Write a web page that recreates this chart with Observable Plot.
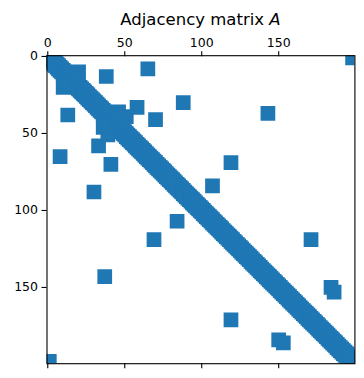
<!DOCTYPE html>
<html><head><meta charset="utf-8">
<script src="https://cdn.jsdelivr.net/npm/d3@7"></script>
<script src="https://cdn.jsdelivr.net/npm/@observablehq/plot@0.6"></script>
<style>body{margin:0;background:#fff} svg{display:block}</style>
</head><body><div id="chart"></div>
<script>
// ---- data ----
const nodeCount = 200;
const bandOffsets = [-1, 0, 1];
const extraRows = [1, 198, 8, 65, 10, 20, 13, 38, 30, 88, 33, 58, 36, 46, 39, 51, 37, 143, 41, 70, 69, 119, 84, 107, 119, 171, 150, 184, 153, 186];
const extraCols = [198, 1, 65, 8, 20, 10, 38, 13, 88, 30, 58, 33, 46, 36, 51, 39, 143, 37, 70, 41, 119, 69, 107, 84, 171, 119, 184, 150, 186, 153];
const tickValues = [0, 50, 100, 150];
const titleText = "Adjacency matrix ";
const titleSymbol = "A";

// ---- build the nonzero cells ----
const cells = [];
for (let i = 0; i < nodeCount; i++) {
  for (const k of bandOffsets) {
    const j = i + k;
    if (j >= 0 && j < nodeCount) cells.push({row: i, col: j});
  }
}
extraRows.forEach((r, idx) => cells.push({row: r, col: extraCols[idx]}));

const W = 364, H = 378;
const mL = 46.5, mR = 9.6, mT = 55.2, mB = 14.8;

const chart = Plot.plot({
  width: W, height: H,
  marginLeft: mL, marginRight: mR, marginTop: mT, marginBottom: mB,
  style: {fontFamily: "DejaVu Sans", fontSize: "12.5px", color: "black", background: "white", overflow: "visible"},
  x: {domain: [-0.5, nodeCount - 0.5]},
  y: {domain: [-0.5, nodeCount - 0.5], reverse: true},
  marks: [
    Plot.dot(cells, {x: "col", y: "row", symbol: "square", r: 8.3, fill: "#1f77b4", stroke: "none", clip: true}),
    Plot.frame({stroke: "black", strokeWidth: 1.1}),
    Plot.axisX({ticks: tickValues, anchor: "top", tickSize: 5, tickPadding: 4, label: null, stroke: "black", strokeWidth: 1.1}),
    Plot.axisX({ticks: tickValues, anchor: "bottom", tickSize: 5, tickFormat: () => "", label: null, stroke: "black", strokeWidth: 1.1}),
    Plot.axisY({ticks: tickValues, anchor: "left", tickSize: 5, tickPadding: 4, label: null, stroke: "black", strokeWidth: 1.1})
  ]
});

const svg = d3.select(chart);
const title = svg.append("text")
  .attr("x", (mL + (W - mR)) / 2)
  .attr("y", 25)
  .attr("text-anchor", "middle")
  .attr("font-family", "DejaVu Sans")
  .attr("font-size", "16.5px")
  .attr("fill", "black");
title.append("tspan").text(titleText);
title.append("tspan").attr("font-style", "italic").text(titleSymbol);

document.getElementById("chart").appendChild(chart);
</script>
</body></html>
